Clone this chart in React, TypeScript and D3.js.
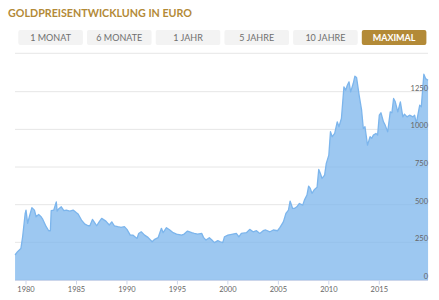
import React from "react";
import * as d3 from "d3";

const title = "GOLDPREISENTWICKLUNG IN EURO";
const buttons = ["1 MONAT", "6 MONATE", "1 JAHR", "5 JAHRE", "10 JAHRE", "MAXIMAL"];
const activeButton = "MAXIMAL";

const months = [
  "1978-12","1979-03","1979-07","1979-09","1979-12","1980-01","1980-03","1980-05","1980-08","1980-11",
  "1981-01","1981-04","1981-07","1981-09","1982-01","1982-04","1982-06","1982-07","1982-10","1983-01",
  "1983-02","1983-04","1983-07","1983-10","1984-01","1984-05","1984-09","1985-01","1985-03","1985-07",
  "1985-11","1986-03","1986-05","1986-08","1986-10","1987-01","1987-04","1987-07","1987-12","1988-04",
  "1988-07","1988-10","1989-02","1989-06","1989-10","1990-01","1990-05","1990-08","1991-01","1991-03",
  "1991-06","1991-10","1992-02","1992-07","1992-10","1993-02","1993-06","1993-08","1993-12","1994-04",
  "1994-08","1994-12","1995-06","1995-09","1996-01","1996-06","1996-09","1997-01","1997-06","1997-08",
  "1997-11","1998-03","1998-06","1998-09","1999-01","1999-04","1999-07","1999-09","2000-01","2000-07",
  "2000-11","2001-02","2001-05","2001-11","2002-03","2002-07","2002-11","2003-03","2003-07","2003-10",
  "2004-03","2004-07","2004-12","2005-03","2005-07","2005-10","2006-01","2006-03","2006-06","2006-08",
  "2006-11","2007-02","2007-06","2007-08","2007-11","2008-01","2008-03","2008-05","2008-08","2008-11",
  "2009-01","2009-03","2009-05","2009-08","2009-10","2010-01","2010-03","2010-05","2010-08","2010-11",
  "2011-01","2011-04","2011-07","2011-09","2011-11","2012-01","2012-03","2012-06","2012-08","2012-10",
  "2013-01","2013-04","2013-06","2013-08","2013-11","2014-02","2014-04","2014-06","2014-09","2014-11",
  "2015-01","2015-03","2015-06","2015-08","2015-11","2016-02","2016-04","2016-06","2016-08","2016-11",
  "2017-02","2017-05","2017-07","2017-10","2018-01","2018-05","2018-07","2018-09","2019-01","2019-03",
  "2019-06","2019-08","2019-11"
];

const prices = [
  166,188,210,287,440,464,376,420,480,464,
  420,435,420,402,354,327,327,460,464,519,
  457,473,486,460,464,457,464,446,438,398,
  371,360,360,402,386,360,386,409,391,365,
  386,360,354,349,354,336,298,298,276,309,
  320,298,283,254,270,281,343,314,347,332,
  314,305,298,305,325,314,309,305,309,283,
  265,281,265,248,261,254,248,287,298,305,
  309,287,309,314,336,320,327,309,327,332,
  320,332,327,349,386,442,464,524,475,475,
  486,508,497,530,564,623,608,575,601,615,
  734,707,674,696,774,829,984,951,973,1050,
  1017,1072,1282,1260,1293,1315,1249,1304,1353,1344,
  1227,1127,1006,1017,895,951,940,962,973,962,
  1094,1110,1050,1028,984,1116,1110,1205,1183,1116,
  1183,1083,1101,1083,1094,1083,1094,1039,1160,1150,
  1366,1337,1326
];

const yTicks = [0, 250, 500, 750, 1000, 1250];
const xTickYears = [1980, 1985, 1990, 1995, 2000, 2005, 2010, 2015];

const W = 439, H = 300;
const GOLD = "#b38a37";
const SERIES = "#7cb5ec";

export default function App() {
  const parse = d3.timeParse("%Y-%m");
  const data = months.map((m, i) => ({ date: parse(m) as Date, value: prices[i] }));

  const x = d3.scaleTime()
    .domain([new Date(1980, 0, 1), new Date(2015, 0, 1)])
    .range([26, 379.3]);
  const y = d3.scaleLinear().domain([0, 1250]).range([280, 91.7]);

  const area = d3.area<{ date: Date; value: number }>()
    .x(d => x(d.date))
    .y0(y(0))
    .y1(d => y(d.value));
  const line = d3.line<{ date: Date; value: number }>()
    .x(d => x(d.date))
    .y(d => y(d.value));

  const btnX0 = 18.3, btnW = 64.6, btnGap = 4.1;

  return (
    <svg width={W} height={H} style={{ position: "absolute", left: 0, top: 0, background: "#fff" }}
      fontFamily="Lato, 'Open Sans', sans-serif">
      <text x={8} y={16.5} fontSize={11} fontWeight={700} fill={GOLD} textLength={184} lengthAdjust="spacingAndGlyphs">{title}</text>
      {buttons.map((b, i) => {
        const bx = btnX0 + i * (btnW + btnGap);
        const active = b === activeButton;
        return (
          <g key={b}>
            <rect x={bx} y={30} width={btnW} height={15} rx={2} fill={active ? GOLD : "#f3f3f3"} />
            <text x={bx + btnW / 2} y={40.5} textAnchor="middle" fontSize={active ? 9 : 9}
              fontWeight={active ? 700 : 400} fill={active ? "#fff" : "#6f6f6f"}>{b}</text>
          </g>
        );
      })}
      <line x1={15} x2={428} y1={53.3} y2={53.3} stroke="#e6e6e6" strokeWidth={1} />

      {yTicks.map(t => (
        <line key={"g" + t} x1={15} x2={428} y1={y(t)} y2={y(t)} stroke="#e6e6e6" strokeWidth={1} />
      ))}
      <path d={area(data) || ""} fill={SERIES} fillOpacity={0.75} />
      <path d={line(data) || ""} fill="none" stroke={SERIES} strokeWidth={1.3} strokeLinejoin="round" />
      <line x1={15} x2={428} y1={280.5} y2={280.5} stroke="#ccd6eb" strokeWidth={1} />
      {xTickYears.map(yr => {
        const tx = x(new Date(yr, 0, 1));
        return (
          <g key={yr}>
            <line x1={tx} x2={tx} y1={280.5} y2={284.5} stroke="#ccd6eb" strokeWidth={1} />
            <text x={tx} y={292} textAnchor="middle" fontSize={7.5} fill="#666">{yr}</text>
          </g>
        );
      })}
      {yTicks.map(t => (
        <text key={"l" + t} x={428} y={y(t) - 1} textAnchor="end" fontSize={7.5} fill="#666">{t}</text>
      ))}
    </svg>
  );
}
